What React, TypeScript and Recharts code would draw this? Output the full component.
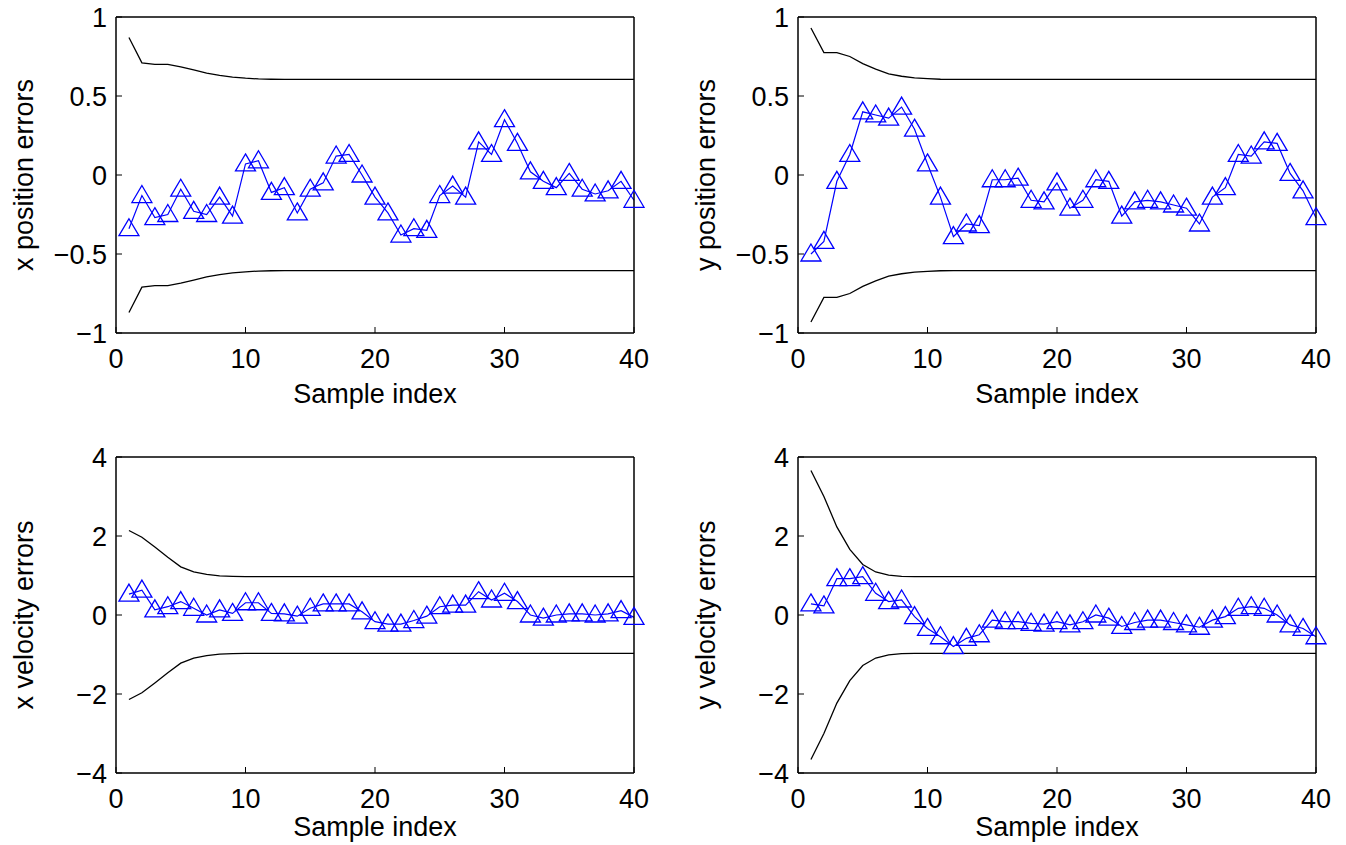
import { LineChart, Line, XAxis, YAxis } from 'recharts'

// sample index 1..40
const samples = [
  1, 2, 3, 4, 5, 6, 7, 8, 9, 10, 11, 12, 13, 14, 15, 16, 17, 18, 19, 20,
  21, 22, 23, 24, 25, 26, 27, 28, 29, 30, 31, 32, 33, 34, 35, 36, 37, 38, 39, 40,
]
const xTicks = [0, 10, 20, 30, 40]
const posTicks = [-1, -0.5, 0, 0.5, 1]
const velTicks = [-4, -2, 0, 2, 4]

const xPosErr = [
  -0.34, -0.13, -0.27, -0.25, -0.09, -0.23, -0.25, -0.14, -0.26, 0.07,
  0.09, -0.11, -0.08, -0.24, -0.09, -0.05, 0.12, 0.13, 0.0, -0.14,
  -0.24, -0.38, -0.34, -0.35, -0.13, -0.07, -0.14, 0.21, 0.13, 0.35,
  0.2, 0.02, -0.04, -0.08, 0.01, -0.09, -0.12, -0.1, -0.04, -0.16,
]
const xPosHi = [
  0.87, 0.71, 0.7, 0.7, 0.685, 0.665, 0.645, 0.63, 0.62, 0.613,
  0.608, 0.606, 0.605, 0.605, 0.605, 0.605, 0.605, 0.605, 0.605, 0.605,
  0.605, 0.605, 0.605, 0.605, 0.605, 0.605, 0.605, 0.605, 0.605, 0.605,
  0.605, 0.605, 0.605, 0.605, 0.605, 0.605, 0.605, 0.605, 0.605, 0.605,
]
const xPosLo = [
  -0.87, -0.71, -0.7, -0.7, -0.685, -0.665, -0.645, -0.63, -0.62, -0.613,
  -0.608, -0.606, -0.605, -0.605, -0.605, -0.605, -0.605, -0.605, -0.605, -0.605,
  -0.605, -0.605, -0.605, -0.605, -0.605, -0.605, -0.605, -0.605, -0.605, -0.605,
  -0.605, -0.605, -0.605, -0.605, -0.605, -0.605, -0.605, -0.605, -0.605, -0.605,
]

const yPosErr = [
  -0.5, -0.42, -0.04, 0.13, 0.4, 0.38, 0.36, 0.43, 0.29, 0.07,
  -0.14, -0.39, -0.31, -0.32, -0.03, -0.03, -0.02, -0.16, -0.17, -0.05,
  -0.21, -0.16, -0.03, -0.04, -0.26, -0.17, -0.16, -0.17, -0.19, -0.21,
  -0.31, -0.14, -0.08, 0.13, 0.12, 0.21, 0.2, 0.01, -0.1, -0.27,
]
const yPosHi = [
  0.93, 0.775, 0.775, 0.75, 0.705, 0.67, 0.64, 0.625, 0.615, 0.61,
  0.606, 0.605, 0.605, 0.605, 0.605, 0.605, 0.605, 0.605, 0.605, 0.605,
  0.605, 0.605, 0.605, 0.605, 0.605, 0.605, 0.605, 0.605, 0.605, 0.605,
  0.605, 0.605, 0.605, 0.605, 0.605, 0.605, 0.605, 0.605, 0.605, 0.605,
]
const yPosLo = [
  -0.93, -0.775, -0.775, -0.75, -0.705, -0.67, -0.64, -0.625, -0.615, -0.61,
  -0.606, -0.605, -0.605, -0.605, -0.605, -0.605, -0.605, -0.605, -0.605, -0.605,
  -0.605, -0.605, -0.605, -0.605, -0.605, -0.605, -0.605, -0.605, -0.605, -0.605,
  -0.605, -0.605, -0.605, -0.605, -0.605, -0.605, -0.605, -0.605, -0.605, -0.605,
]

const xVelErr = [
  0.53, 0.63, 0.13, 0.21, 0.34, 0.17, 0.0, 0.13, 0.04, 0.31,
  0.31, 0.04, 0.03, -0.03, 0.17, 0.28, 0.28, 0.28, 0.08, -0.17,
  -0.23, -0.23, -0.14, -0.03, 0.21, 0.25, 0.25, 0.59, 0.38, 0.55,
  0.34, 0.0, -0.08, 0.0, 0.03, 0.03, 0.0, 0.03, 0.11, -0.06,
]
const xVelHi = [
  2.14, 1.97, 1.72, 1.46, 1.22, 1.09, 1.03, 0.99, 0.98, 0.97,
  0.97, 0.97, 0.97, 0.97, 0.97, 0.97, 0.97, 0.97, 0.97, 0.97,
  0.97, 0.97, 0.97, 0.97, 0.97, 0.97, 0.97, 0.97, 0.97, 0.97,
  0.97, 0.97, 0.97, 0.97, 0.97, 0.97, 0.97, 0.97, 0.97, 0.97,
]
const xVelLo = [
  -2.14, -1.97, -1.72, -1.46, -1.22, -1.09, -1.03, -0.99, -0.98, -0.97,
  -0.97, -0.97, -0.97, -0.97, -0.97, -0.97, -0.97, -0.97, -0.97, -0.97,
  -0.97, -0.97, -0.97, -0.97, -0.97, -0.97, -0.97, -0.97, -0.97, -0.97,
  -0.97, -0.97, -0.97, -0.97, -0.97, -0.97, -0.97, -0.97, -0.97, -0.97,
]

const yVelErr = [
  0.28, 0.23, 0.92, 0.92, 0.97, 0.55, 0.34, 0.38, -0.04, -0.34,
  -0.55, -0.8, -0.59, -0.5, -0.13, -0.17, -0.17, -0.21, -0.23, -0.17,
  -0.25, -0.17, 0.0, -0.08, -0.29, -0.19, -0.13, -0.13, -0.19, -0.25,
  -0.31, -0.13, -0.04, 0.17, 0.21, 0.17, 0.0, -0.25, -0.34, -0.55,
]
const yVelHi = [
  3.66, 3.0, 2.23, 1.66, 1.28, 1.09, 1.01, 0.98, 0.97, 0.97,
  0.97, 0.97, 0.97, 0.97, 0.97, 0.97, 0.97, 0.97, 0.97, 0.97,
  0.97, 0.97, 0.97, 0.97, 0.97, 0.97, 0.97, 0.97, 0.97, 0.97,
  0.97, 0.97, 0.97, 0.97, 0.97, 0.97, 0.97, 0.97, 0.97, 0.97,
]
const yVelLo = [
  -3.66, -3.0, -2.23, -1.66, -1.28, -1.09, -1.01, -0.98, -0.97, -0.97,
  -0.97, -0.97, -0.97, -0.97, -0.97, -0.97, -0.97, -0.97, -0.97, -0.97,
  -0.97, -0.97, -0.97, -0.97, -0.97, -0.97, -0.97, -0.97, -0.97, -0.97,
  -0.97, -0.97, -0.97, -0.97, -0.97, -0.97, -0.97, -0.97, -0.97, -0.97,
]

const FONT = '"Liberation Sans", Arial, Helvetica, sans-serif'
const FONT_SIZE = 27
const tickStyle = { fill: '#000', fontSize: FONT_SIZE, fontFamily: FONT }
const axisLine = { stroke: '#000', strokeWidth: 1.5 }
const tickLine = { stroke: '#000', strokeWidth: 1 }

const fmt = (v: number) => (v < 0 ? '\u2212' + Math.abs(v) : String(v))

const renderTriangle = (props: any) => {
  const { cx, cy, index } = props
  if (cx == null || cy == null) return <g key={`t-${index}`} />
  return (
    <path
      key={`t-${index}`}
      d={`M${cx},${cy - 10}L${cx + 10},${cy + 7}L${cx - 10},${cy + 7}Z`}
      fill="none"
      stroke="#0000ff"
      strokeWidth={1.3}
    />
  )
}

interface PanelProps {
  left: number
  top: number
  yLabel: string
  err: number[]
  hi: number[]
  lo: number[]
  domain: [number, number]
  ticks: number[]
  labelOffset?: number
}

function Panel({ left, top, yLabel, err, hi, lo, domain, ticks, labelOffset = 17 }: PanelProps) {
  const data = samples.map((s, i) => ({ s, err: err[i], hi: hi[i], lo: lo[i] }))

  // top and right axes only draw the box edge and inward ticks (1px wide so they render)
  return (
    <div style={{ position: 'absolute', left, top }}>
      <LineChart width={660} height={420} data={data} margin={{ top: 16, right: 25, bottom: 0, left: 0 }}>
        <XAxis
          dataKey="s"
          type="number"
          domain={[0, 40]}
          ticks={xTicks}
          interval={0}
          height={87}
          tickSize={-6}
          tickMargin={22}
          axisLine={axisLine}
          tickLine={tickLine}
          tick={tickStyle}
          label={{
            value: 'Sample index',
            position: 'insideBottom',
            offset: labelOffset,
            fill: '#000',
            fontSize: FONT_SIZE,
            fontFamily: FONT,
          }}
        />
        <XAxis
          xAxisId="top"
          orientation="top"
          dataKey="s"
          type="number"
          domain={[0, 40]}
          ticks={xTicks}
          interval={0}
          height={1}
          tickSize={-6}
          axisLine={axisLine}
          tickLine={tickLine}
          tick={false}
        />
        <YAxis
          type="number"
          domain={domain}
          ticks={ticks}
          interval={0}
          width={116}
          tickSize={-6}
          tickMargin={15}
          tickFormatter={fmt}
          axisLine={axisLine}
          tickLine={tickLine}
          tick={tickStyle}
          label={{
            value: yLabel,
            angle: -90,
            position: 'insideLeft',
            offset: 23,
            fill: '#000',
            fontSize: FONT_SIZE,
            fontFamily: FONT,
            style: { textAnchor: 'middle' },
          }}
        />
        <YAxis
          yAxisId="right"
          orientation="right"
          type="number"
          domain={domain}
          ticks={ticks}
          interval={0}
          width={1}
          tickSize={-6}
          axisLine={axisLine}
          tickLine={tickLine}
          tick={false}
        />
        <Line dataKey="hi" stroke="#000" strokeWidth={1.3} dot={false} activeDot={false} isAnimationActive={false} />
        <Line dataKey="lo" stroke="#000" strokeWidth={1.3} dot={false} activeDot={false} isAnimationActive={false} />
        <Line
          dataKey="err"
          stroke="#0000ff"
          strokeWidth={1.2}
          dot={renderTriangle}
          activeDot={false}
          isAnimationActive={false}
        />
      </LineChart>
    </div>
  )
}

export default function App() {
  return (
    <div style={{ position: 'absolute', left: 0, top: 0, width: 1346, height: 845, background: '#fff', overflow: 'hidden' }}>
      <Panel left={0} top={0} yLabel="x position errors" err={xPosErr} hi={xPosHi} lo={xPosLo} domain={[-1, 1]} ticks={posTicks} />
      <Panel left={682} top={0} yLabel="y position errors" err={yPosErr} hi={yPosHi} lo={yPosLo} domain={[-1, 1]} ticks={posTicks} />
      <Panel left={0} top={440} yLabel="x velocity errors" err={xVelErr} hi={xVelHi} lo={xVelLo} domain={[-4, 4]} ticks={velTicks} labelOffset={24} />
      <Panel left={682} top={440} yLabel="y velocity errors" err={yVelErr} hi={yVelHi} lo={yVelLo} domain={[-4, 4]} ticks={velTicks} labelOffset={24} />
    </div>
  )
}
